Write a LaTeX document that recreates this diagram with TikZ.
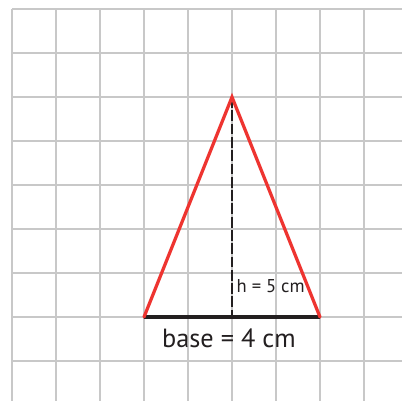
\documentclass[tikz,border=0pt]{standalone}
\usepackage{fontspec}
\setmainfont{PT Sans}
\usepackage{tikz}
\usetikzlibrary{positioning, calc}
\definecolor{gridgray}{RGB}{200,200,200}
\definecolor{sidered}{RGB}{238,52,48}
\definecolor{inkdark}{RGB}{35,31,32}
\tikzset{
  gridline/.style={gridgray, line width=1pt},
  side/.style={sidered, line width=2.1pt, line cap=round},
  baseline/.style={inkdark, line width=2pt},
  heightline/.style={inkdark, line width=1pt, dash pattern=on 7pt off 1.6pt},
  label/.style={inkdark, inner sep=0pt}
}
\begin{document}
\begin{tikzpicture}
  \useasboundingbox (-3.273,-1.909) rectangle (5.864,7.205);
  % Grid
  \begin{scope}
    \clip (-3.273,-1.909) rectangle (5.864,7.205);
    \foreach \x in {-3,...,6}
      \draw[gridline] (\x,-2) -- (\x,7);
    \foreach \y in {-2,...,7}
      \draw[gridline] (-3,\y) -- (6,\y);
  \end{scope}

  % Triangle
  \coordinate (A) at (0,0);
  \coordinate (B) at (4,0);
  \coordinate (C) at (2,5);
  \coordinate (F) at (2,0);
  \draw[heightline] (C) -- (F);
  \draw[baseline] (A) -- (B);
  \draw[side] (A) -- (C) -- (B);

  % Labels
  \node[label, anchor=base west, font=\fontsize{12}{14}\selectfont] (hlabel) at (2.1,0.55) {h = 5 cm};
  \node[label, anchor=base, font=\fontsize{17}{20}\selectfont] (baselabel) at (1.93,-0.70) {base = 4 cm};
\end{tikzpicture}
\end{document}
